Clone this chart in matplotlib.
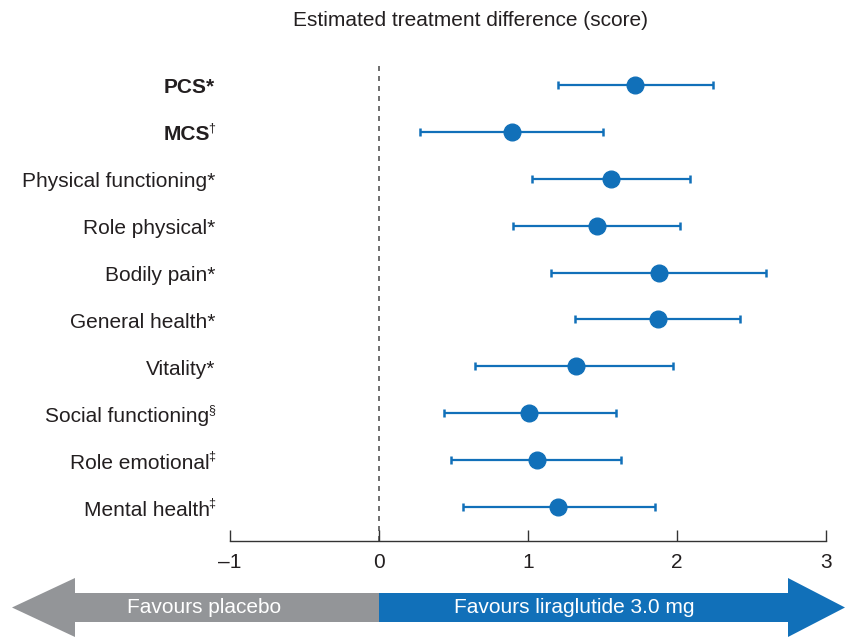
import matplotlib
matplotlib.use("Agg")
import matplotlib.pyplot as plt
from matplotlib.patches import Polygon

plt.rcParams['font.family'] = ['Liberation Sans', 'DejaVu Sans']

labels = ["PCS*", "MCS", "Physical functioning*", "Role physical*", "Bodily pain*",
          "General health*", "Vitality*", "Social functioning", "Role emotional",
          "Mental health"]
label_marks = ["", "\u2020", "", "", "", "", "", "\u00a7", "\u2021", "\u2021"]
bold = [True, True, False, False, False, False, False, False, False, False]
estimate = [1.72, 0.89, 1.56, 1.46, 1.88, 1.87, 1.32, 1.01, 1.06, 1.20]
ci_low = [1.20, 0.275, 1.03, 0.90, 1.155, 1.315, 0.645, 0.436, 0.483, 0.564]
ci_high = [2.24, 1.50, 2.09, 2.02, 2.60, 2.42, 1.97, 1.59, 1.625, 1.852]
xticks = [-1, 0, 1, 2, 3]
xticklabels = ["\u20131", "0", "1", "2", "3"]

W, H = 847, 638
BLUE = "#1170b9"
GRAY = "#939598"
TXT = "#231f20"

fig = plt.figure(figsize=(W / 100, H / 100), dpi=100)
ax = fig.add_axes([230 / W, 1 - 541 / H, (826 - 230) / W, (541 - 65) / H])

ys = list(range(len(labels)))
xerr = [[e - l for e, l in zip(estimate, ci_low)], [h - e for e, h in zip(estimate, ci_high)]]
ax.errorbar(estimate, ys, xerr=xerr, fmt='o', color=BLUE, ecolor=BLUE,
            markersize=12, elinewidth=1.6, capsize=3, capthick=1.8, zorder=3)
ax.axvline(0, color="#555555", linestyle=(0, (3, 3)), linewidth=1.2, zorder=1)

ax.set_xlim(-1, 3)
ax.set_ylim(9.725, -0.426)
ax.set_xticks(xticks)
ax.set_xticklabels(xticklabels, fontsize=15, color=TXT)
ax.set_yticks(ys)
ax.set_yticklabels([""] * len(ys))
ax.tick_params(axis='y', length=0)
ax.tick_params(axis='x', direction='in', length=8, width=1, color="#333333", pad=9)
for s in ['top', 'right', 'left']:
    ax.spines[s].set_visible(False)
ax.spines['bottom'].set_color("#333333")
ax.spines['bottom'].set_linewidth(1)

# Row labels with small raised footnote marks
fig.canvas.draw()
renderer = fig.canvas.get_renderer()
gap = 15
for y, lab, mark, b in zip(ys, labels, label_marks, bold):
    off = gap
    if mark:
        st = ax.annotate(mark, xy=(0, y), xycoords=('axes fraction', 'data'),
                         xytext=(-gap, 5), textcoords='offset pixels',
                         ha='right', va='center_baseline', fontsize=9, color=TXT)
        off = gap + st.get_window_extent(renderer).width - 1.5
    ax.annotate(lab, xy=(0, y), xycoords=('axes fraction', 'data'),
                xytext=(-off, -1), textcoords='offset pixels',
                ha='right', va='center_baseline', fontsize=15, color=TXT,
                fontweight='bold' if b else 'normal')

fig.text(470 / W, 1 - 21 / H, "Estimated treatment difference (score)", ha='center', va='center',
         fontsize=15, color=TXT)

# Arrow band below axis, x in data units of main axes
aax = fig.add_axes([0, 0, 1, 1])
aax.set_axis_off()
pos = ax.get_position()
scale = (3 - (-1)) / pos.width
aax.set_xlim(-1 - pos.x0 * scale, -1 + (1 - pos.x0) * scale)
aax.set_ylim(H, 0)

def px2d(p):
    return -1 + (p - 230) / 149.0

lt, lb, rb, rt = px2d(12), px2d(75), px2d(788), px2d(845)
ytop_h, ybot_h, ytop_b, ybot_b, ymid = 578, 637, 593, 622, 607.5
left = Polygon([(lt, ymid), (lb, ytop_h), (lb, ytop_b), (0, ytop_b), (0, ybot_b), (lb, ybot_b), (lb, ybot_h)],
               closed=True, facecolor=GRAY, edgecolor='none')
right = Polygon([(rt, ymid), (rb, ytop_h), (rb, ytop_b), (0, ytop_b), (0, ybot_b), (rb, ybot_b), (rb, ybot_h)],
                closed=True, facecolor=BLUE, edgecolor='none')
aax.add_patch(left)
aax.add_patch(right)
aax.text(px2d(204), ymid, "Favours placebo", color='white', ha='center', va='center', fontsize=15)
aax.text(px2d(574), ymid, "Favours liraglutide 3.0 mg", color='white', ha='center', va='center', fontsize=15)

fig.savefig("out.png", dpi=100)
